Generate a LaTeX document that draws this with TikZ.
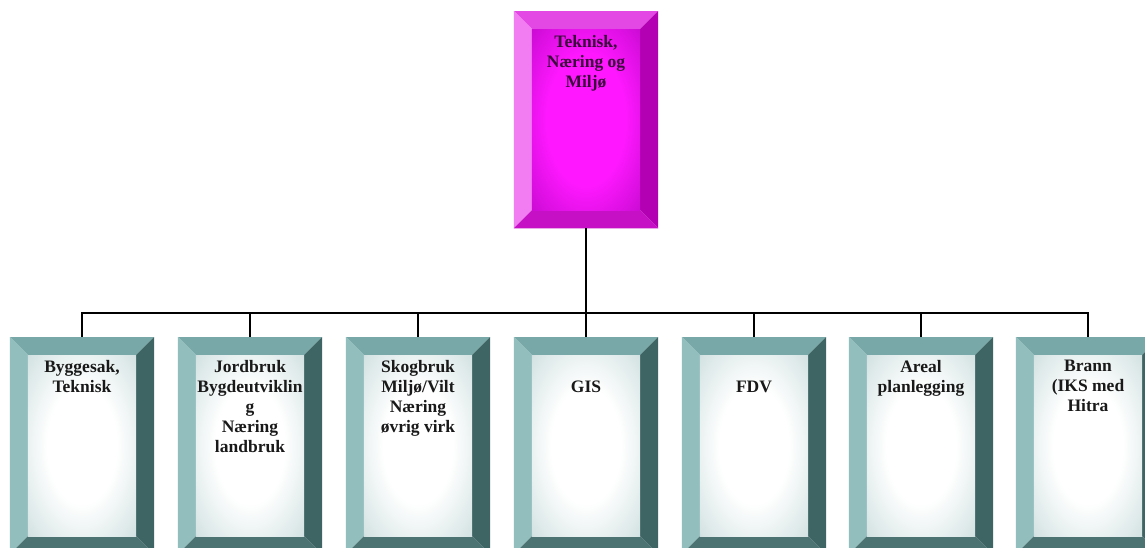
\documentclass[tikz,border=0pt]{standalone}
\usepackage{fontspec}
\setmainfont{Liberation Serif}
\usepackage{xcolor}
\usepackage{tikz}
\usetikzlibrary{calc, positioning}

\definecolor{magtop}{HTML}{E448E4}
\definecolor{magleft}{HTML}{F27CF2}
\definecolor{magright}{HTML}{B200B2}
\definecolor{magbot}{HTML}{C610C6}
\definecolor{magin}{HTML}{FF18FF}
\definecolor{magout}{HTML}{A000B0}
\definecolor{tealtop}{HTML}{78A8A8}
\definecolor{tealleft}{HTML}{92BEBE}
\definecolor{tealright}{HTML}{3E6464}
\definecolor{tealbot}{HTML}{4C7272}
\definecolor{tealmid}{HTML}{D6E4E4}
\definecolor{tealout}{HTML}{7CA6A6}
\definecolor{magtext}{HTML}{3A0C3A}

\pgfdeclareradialshading{tealface}{\pgfpoint{0bp}{0bp}}%
  {color(0bp)=(white); color(16bp)=(white); color(34bp)=(tealmid); color(50bp)=(tealout)}
\pgfdeclareradialshading{magface}{\pgfpoint{0bp}{0bp}}%
  {color(0bp)=(magin); color(18bp)=(magin); color(50bp)=(magout)}

% bevelled box: node, top, left, right, bottom, face shading
\newcommand\bevelbox[6]{%
  \fill[#2] (#1.north west) -- (#1.north east) -- ($(#1.north east)+(-18pt,-18pt)$) -- ($(#1.north west)+(18pt,-18pt)$) -- cycle;
  \fill[#3] (#1.north west) -- ($(#1.north west)+(18pt,-18pt)$) -- ($(#1.south west)+(18pt,18pt)$) -- (#1.south west) -- cycle;
  \fill[#4] (#1.north east) -- ($(#1.north east)+(-18pt,-18pt)$) -- ($(#1.south east)+(-18pt,18pt)$) -- (#1.south east) -- cycle;
  \fill[#5] (#1.south west) -- ($(#1.south west)+(18pt,18pt)$) -- ($(#1.south east)+(-18pt,18pt)$) -- (#1.south east) -- cycle;
  \shade[shading=#6] ($(#1.north west)+(18pt,-18pt)$) rectangle ($(#1.south east)+(-18pt,18pt)$);
}

\begin{document}
\begin{tikzpicture}[x=1pt, y=-1pt,
  unit/.style={rectangle, minimum width=144pt, minimum height=217pt, inner sep=0pt, anchor=north},
  lbl/.style={anchor=north, align=center, inner sep=0pt, font=\fontsize{17.5}{20}\selectfont\bfseries},
  wire/.style={line width=2pt, black}]
  \useasboundingbox (0,0) rectangle (1145,547);
  \fill[white] (0,0) rectangle (1145,547);
  \clip (0,0) rectangle (1145,547);

  % top unit
  \node[unit] (tnm) at (586,11) {};
  \bevelbox{tnm}{magtop}{magleft}{magright}{magbot}{magface}
  \node[lbl, text=magtext] (tnm-t) at ([yshift=-24pt]tnm.north) {Teknisk,\\Næring og\\Miljø};

  \coordinate (bus) at (586,313);

  % sub units
  \foreach \n/\x/\d/\t in {byg/82/23pt/{Byggesak,\\Teknisk},
      jord/250/23pt/{Jordbruk\\Bygdeutviklin\\g\\Næring\\landbruk},
      skog/418/23pt/{Skogbruk\\Miljø/Vilt\\Næring\\øvrig virk},
      gis/586/44pt/{GIS},
      fdv/754/44pt/{FDV},
      areal/921/23pt/{Areal\\planlegging},
      brann/1088/23pt/{Brann\\(IKS med\\Hitra}} {
    \node[unit] (\n) at (\x,337) {};
    \bevelbox{\n}{tealtop}{tealleft}{tealright}{tealbot}{tealface}
    \node[lbl, text=black!90] (\n-t) at ([yshift=-\d]\n.north) {\t};
    \draw[wire] (tnm.south) -- (tnm.south |- bus) -| (\n.north);
  }
\end{tikzpicture}
\end{document}
